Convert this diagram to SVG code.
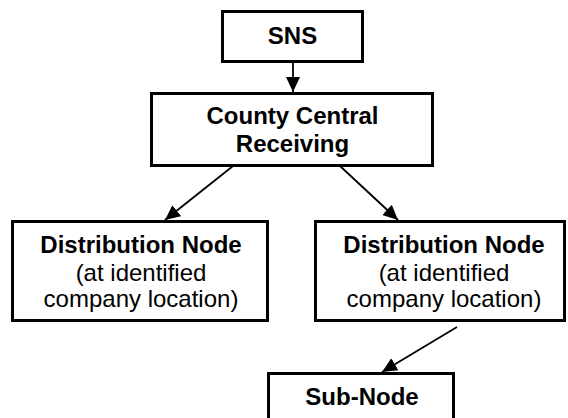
<svg xmlns="http://www.w3.org/2000/svg" width="568" height="418" viewBox="0 0 568 418">
<style>
.box{fill:#fff;stroke:#000;stroke-width:3}
.b{font-family:"Liberation Sans",Arial,sans-serif;font-weight:bold;font-size:24px;text-anchor:middle;fill:#000}
.r{font-family:"Liberation Sans",Arial,sans-serif;font-size:24px;text-anchor:middle;fill:#000}
.c{stroke:#000;stroke-width:1.8;fill:none;marker-end:url(#ah)}
</style>
<defs>
<marker id="ah" markerUnits="userSpaceOnUse" markerWidth="16" markerHeight="16" viewBox="0 0 16 16" refX="15" refY="8" orient="auto">
<path d="M0,1 L15,8 L0,15 Z" fill="#000"/>
</marker>
</defs>
<rect width="568" height="418" fill="#fff"/>
<g id="connectors">
<line class="c" x1="293" y1="62" x2="293" y2="92"/>
<line class="c" x1="233" y1="166" x2="165" y2="220"/>
<line class="c" x1="340" y1="166" x2="398" y2="220"/>
<line class="c" x1="457" y1="327" x2="382" y2="372"/>
</g>
<g id="sns">
<rect class="box" x="222.5" y="11.5" width="140" height="50"/>
<text class="b" x="292.5" y="44">SNS</text>
</g>
<g id="ccr">
<rect class="box" x="151.5" y="93.5" width="281" height="72"/>
<text class="b" x="292.5" y="124">County Central</text>
<text class="b" x="292.5" y="152">Receiving</text>
</g>
<g id="dn-left">
<rect class="box" x="12.5" y="221.5" width="255" height="99"/>
<text class="b" x="141" y="253">Distribution Node</text>
<text class="r" x="141" y="281">(at identified</text>
<text class="r" x="141" y="307">company location)</text>
</g>
<g id="dn-right">
<rect class="box" x="315.5" y="221.5" width="249" height="99"/>
<text class="b" x="444" y="253">Distribution Node</text>
<text class="r" x="444" y="281">(at identified</text>
<text class="r" x="444" y="307">company location)</text>
</g>
<g id="subnode">
<rect class="box" x="268.5" y="373.5" width="185" height="50"/>
<text class="b" x="362" y="405">Sub-Node</text>
</g>
</svg>
